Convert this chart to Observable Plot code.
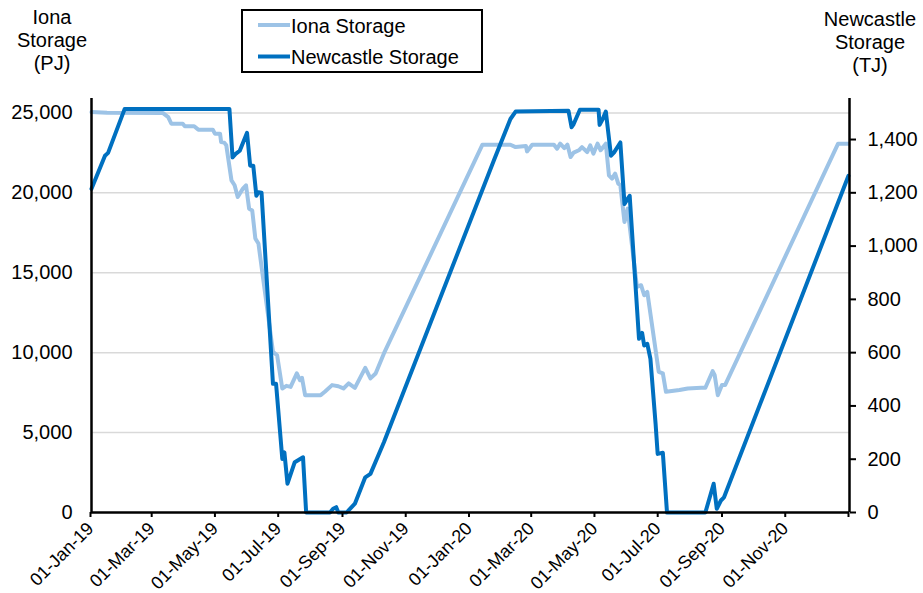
<!DOCTYPE html>
<html><head><meta charset="utf-8">
<script src="https://cdn.jsdelivr.net/npm/d3@7"></script>
<script src="https://cdn.jsdelivr.net/npm/@observablehq/plot@0.6"></script>
<style>
body{margin:0;background:#fff;}
#chart{width:923px;height:593px;}
</style></head><body><div id="chart"></div>
<script>
// ---- Data ----
const seriesNames = ["Iona Storage", "Newcastle Storage"];
const seriesColors = ["#9dc3e6", "#0070c0"];

const ionaDates = ["2019-01-01","2019-01-16","2019-03-11","2019-03-16","2019-03-19","2019-03-30","2019-04-01","2019-04-10","2019-04-14","2019-04-28","2019-04-30","2019-05-05","2019-05-06","2019-05-09","2019-05-11","2019-05-16","2019-05-19","2019-05-22","2019-05-27","2019-05-30","2019-06-02","2019-06-05","2019-06-08","2019-06-11","2019-06-25","2019-06-29","2019-07-04","2019-07-08","2019-07-12","2019-07-18","2019-07-21","2019-07-23","2019-07-26","2019-08-10","2019-08-14","2019-08-21","2019-08-27","2019-09-01","2019-09-06","2019-09-12","2019-09-22","2019-09-27","2019-10-02","2019-10-10","2020-01-13","2020-02-09","2020-02-14","2020-02-24","2020-02-25","2020-03-01","2020-03-22","2020-03-25","2020-03-28","2020-04-01","2020-04-04","2020-04-07","2020-04-10","2020-04-15","2020-04-18","2020-04-23","2020-04-26","2020-04-29","2020-05-03","2020-05-06","2020-05-11","2020-05-14","2020-05-17","2020-05-20","2020-05-23","2020-05-25","2020-05-29","2020-06-01","2020-06-10","2020-06-14","2020-06-17","2020-06-20","2020-07-01","2020-07-05","2020-07-08","2020-07-21","2020-07-29","2020-08-11","2020-08-15","2020-08-22","2020-08-24","2020-08-27","2020-08-31","2020-09-03","2020-12-21","2020-12-31"];
const ionaPJ = [25050,25010,24990,24740,24320,24320,24160,24160,23950,23950,23700,23700,23175,23140,22970,20780,20470,19740,20260,20470,19010,18900,17140,16825,10050,9840,7760,7925,7860,8700,8280,8425,7340,7340,7550,7970,7900,7760,8075,7800,9050,8390,8700,9950,23010,23010,22860,22925,22590,23010,23010,22760,23075,22800,23010,22240,22510,22660,22860,22550,22970,22450,23075,22660,23075,21090,20890,21200,20575,20470,18175,19010,14110,14220,13590,13800,8800,8700,7550,7660,7760,7800,7800,8840,8590,7340,7970,7970,23075,23075];

const newcastleDates = ["2019-01-01","2019-01-14","2019-01-17","2019-02-02","2019-05-14","2019-05-17","2019-05-20","2019-05-24","2019-05-31","2019-06-03","2019-06-06","2019-06-09","2019-06-11","2019-06-14","2019-06-25","2019-06-28","2019-07-04","2019-07-06","2019-07-09","2019-07-16","2019-07-24","2019-07-27","2019-08-19","2019-08-22","2019-08-25","2019-08-27","2019-09-04","2019-09-12","2019-09-22","2019-09-27","2019-10-10","2020-01-24","2020-02-09","2020-02-14","2020-04-05","2020-04-08","2020-04-10","2020-04-16","2020-05-04","2020-05-05","2020-05-08","2020-05-11","2020-05-16","2020-05-19","2020-05-25","2020-05-29","2020-06-01","2020-06-03","2020-06-12","2020-06-15","2020-06-17","2020-06-20","2020-06-23","2020-06-28","2020-06-30","2020-07-05","2020-07-09","2020-08-15","2020-08-23","2020-08-26","2020-08-30","2020-09-02","2020-12-31"];
const newcastleTJ = [1215,1339,1350,1515,1515,1333,1346,1358,1425,1302,1302,1189,1202,1200,483,483,201,226,108,189,207,0,0,14,20,0,0,33,132,145,264,1321,1477,1505,1508,1446,1458,1512,1512,1455,1477,1505,1339,1352,1389,1158,1177,1189,652,674,627,633,577,333,220,224,0,0,108,14,45,57,1264];

const xTickDates = ["2019-01-01","2019-03-01","2019-05-01","2019-07-01","2019-09-01","2019-11-01","2020-01-01","2020-03-01","2020-05-01","2020-07-01","2020-09-01","2020-11-01"];
const leftTicks = [0, 5000, 10000, 15000, 20000, 25000];
const rightTicks = [0, 200, 400, 600, 800, 1000, 1200, 1400];
const leftTitle = ["Iona", "Storage", "(PJ)"];
const rightTitle = ["Newcastle", "Storage", "(TJ)"];

// ---- Scales ----
const leftMax = 25900, rightMax = 1554;
const k = leftMax / rightMax;
const parse = d3.utcParse("%Y-%m-%d");
const iona = ionaDates.map((d, i) => ({date: parse(d), v: ionaPJ[i]}));
const newcastle = newcastleDates.map((d, i) => ({date: parse(d), v: newcastleTJ[i] * k}));
const x0 = parse("2019-01-01"), x1 = parse("2021-01-01");
const fmt = d3.format(",");
const font = "'Liberation Sans', Arial, sans-serif";

const svg = Plot.plot({
  width: 923, height: 593,
  marginLeft: 91, marginRight: 74, marginTop: 98, marginBottom: 81,
  style: {fontFamily: font, fontSize: "20px", color: "#000", background: "#fff", overflow: "visible"},
  x: {type: "utc", domain: [x0, x1]},
  y: {domain: [0, leftMax]},
  marks: [
    Plot.gridY(leftTicks.filter(v => v > 0), {stroke: "#d9d9d9", strokeOpacity: 1, strokeWidth: 1.5}),
    Plot.line(iona, {x: "date", y: "v", stroke: seriesColors[0], strokeWidth: 4, strokeLinejoin: "round"}),
    Plot.line(newcastle, {x: "date", y: "v", stroke: seriesColors[1], strokeWidth: 4, strokeLinejoin: "round"}),
    Plot.axisY(leftTicks, {anchor: "left", tickSize: 0, tickPadding: 19, tickFormat: fmt, label: null, fill: "#000"}),
    Plot.axisY(rightTicks.map(v => v * k), {anchor: "right", tickSize: 6, tickPadding: 12, stroke: "#000", strokeWidth: 2, tickFormat: d => fmt(Math.round(d / k)), label: null, fill: "#000"}),
    Plot.axisX(xTickDates.map(parse).concat([x1]), {anchor: "bottom", tickSize: 5, tickPadding: 8, dx: -1, fontSize: 18, stroke: "#000", strokeWidth: 2, tickRotate: -45, tickFormat: d => +d === +x1 ? "" : d3.utcFormat("%d-%b-%y")(d), label: null, fill: "#000"}),
    Plot.ruleY([0], {stroke: "#000", strokeWidth: 2.5}),
    Plot.ruleX([x0, x1], {stroke: "#000", strokeWidth: 2.5})
  ]
});
document.getElementById("chart").appendChild(svg);

// ---- Axis titles and legend ----
const s = d3.select(svg);
const addTitle = (lines, cx, y0) => {
  const t = s.append("text").attr("text-anchor", "middle").attr("font-family", font).attr("font-size", 20).attr("fill", "#000");
  lines.forEach((l, i) => t.append("tspan").attr("x", cx).attr("y", y0 + i * 23).text(l));
};
addTitle(leftTitle, 52, 24);
addTitle(rightTitle, 870, 26);

const lg = s.append("g");
lg.append("rect").attr("x", 242).attr("y", 10).attr("width", 240).attr("height", 62)
  .attr("fill", "#fff").attr("stroke", "#000").attr("stroke-width", 2);
seriesNames.forEach((name, i) => {
  const yy = 25 + i * 31.5;
  lg.append("line").attr("x1", 258).attr("x2", 290).attr("y1", yy).attr("y2", yy)
    .attr("stroke", seriesColors[i]).attr("stroke-width", 4);
  lg.append("text").attr("x", 291).attr("y", yy + 7.5).attr("text-anchor", "start")
    .attr("font-family", font).attr("font-size", 20).attr("fill", "#000").text(name);
});
</script>
</body></html>
